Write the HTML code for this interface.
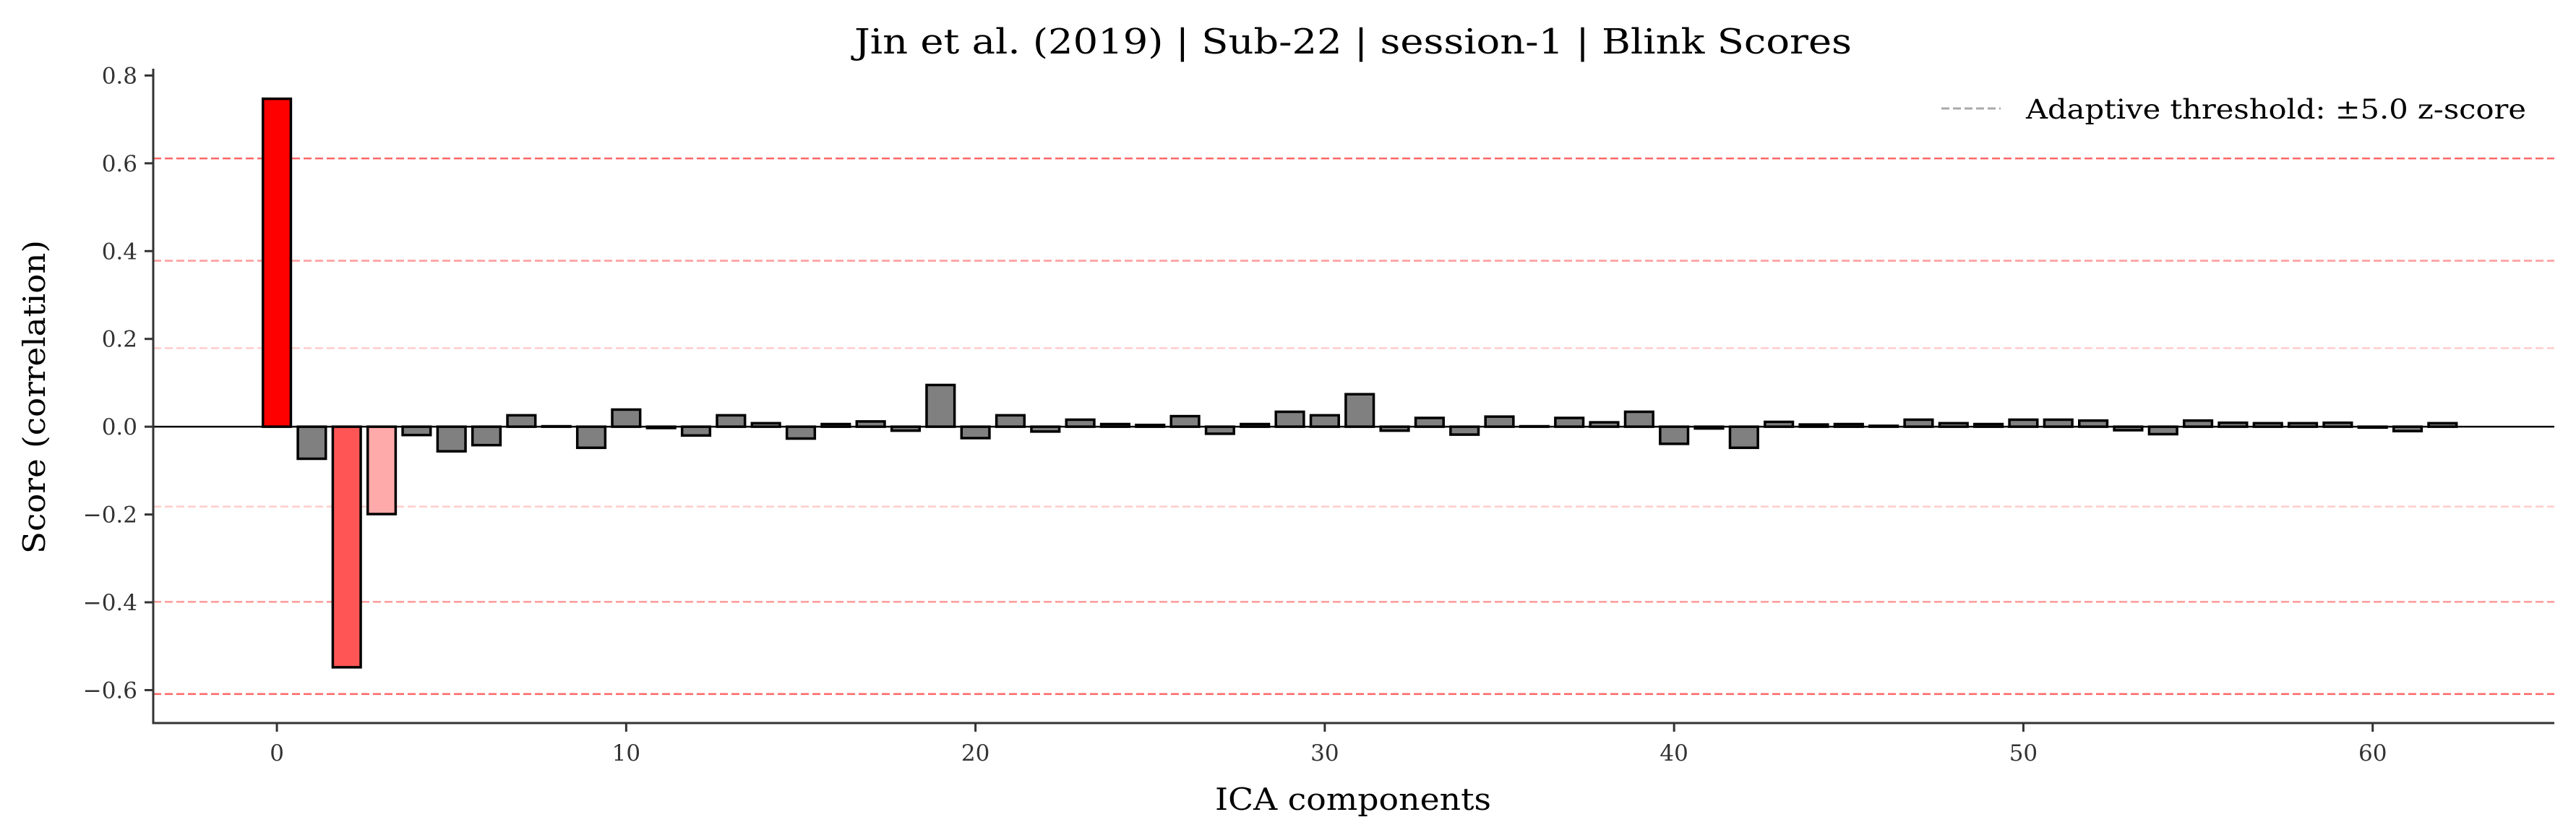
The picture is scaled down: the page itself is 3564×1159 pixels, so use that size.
<!DOCTYPE html>
<html><head><meta charset="utf-8"><style>
html,body{margin:0;padding:0;background:#fff;}
svg{display:block;font-family:"DejaVu Serif","Liberation Serif",serif;}
</style></head><body>
<svg id="chart" width="3564" height="1159" viewBox="0 0 3564 1159" xmlns="http://www.w3.org/2000/svg">
<text x="1872" y="74" font-size="48" text-anchor="middle" fill="#000" textLength="1380" lengthAdjust="spacingAndGlyphs">Jin et al. (2019) | Sub-22 | session-1 | Blink Scores</text>
<g id="grid"></g><g id="bars"></g><g id="axes"></g>
<text transform="translate(62,549) rotate(-90)" font-size="42" text-anchor="middle" fill="#000" textLength="434" lengthAdjust="spacingAndGlyphs">Score (correlation)</text>
<text x="1872" y="1120" font-size="42" text-anchor="middle" fill="#000" textLength="382" lengthAdjust="spacingAndGlyphs">ICA components</text>
<g>
<line x1="2686" y1="150" x2="2768" y2="150" stroke="#aaaaaa" stroke-width="3" stroke-dasharray="11,5"/>
<text x="2803" y="164" font-size="37" fill="#000" textLength="692" lengthAdjust="spacingAndGlyphs">Adaptive threshold: ±5.0 z-score</text>
</g>
</svg>
<script>
const scores=[0.747,-0.073,-0.548,-0.199,-0.019,-0.056,-0.042,0.026,0.001,-0.048,0.039,-0.003,-0.020,0.026,0.008,-0.027,0.006,0.012,-0.009,0.095,-0.026,0.026,-0.011,0.016,0.006,0.004,0.024,-0.016,0.006,0.034,0.026,0.074,-0.009,0.020,-0.018,0.023,0.001,0.020,0.010,0.034,-0.039,-0.004,-0.048,0.011,0.005,0.006,0.002,0.016,0.008,0.006,0.016,0.016,0.014,-0.008,-0.017,0.014,0.009,0.008,0.008,0.009,-0.002,-0.010,0.008];
const barColors={0:"#ff0000",2:"#ff5555",3:"#ffaaaa"};
const thresholds=[0.611,0.378,0.179,-0.182,-0.399,-0.609];
const thresholdColors=["#ff6666","#ff9999","#ffcccc","#ffcccc","#ff9999","#ff6666"];
const yTicks=[0.8,0.6,0.4,0.2,0.0,-0.2,-0.4,-0.6];
const xTicks=[0,10,20,30,40,50,60];
const X0=212,X1=3534,Y0=95,Y1=1000;
const xmin=-3.54,xmax=65.2,ymin=-0.675,ymax=0.8155;
const sx=v=>X0+(v-xmin)/(xmax-xmin)*(X1-X0);
const sy=v=>Y1-(v-ymin)/(ymax-ymin)*(Y1-Y0);
const NS="http://www.w3.org/2000/svg";
function mk(tag,attrs,parent){const e=document.createElementNS(NS,tag);for(const k in attrs)e.setAttribute(k,attrs[k]);parent.appendChild(e);return e;}
const grid=document.getElementById('grid'),bars=document.getElementById('bars'),axes=document.getElementById('axes');
thresholds.forEach((t,i)=>{
  const l=mk('line',{x1:X0,x2:X1,y1:sy(t),y2:sy(t),stroke:thresholdColors[i],'stroke-width':2.5,'stroke-dasharray':'11,5'},grid);
  
  
});
const bw=0.8;
scores.forEach((v,i)=>{
  const y=Math.min(sy(v),sy(0)),h=Math.abs(sy(v)-sy(0));
  const r=mk('rect',{x:sx(i-bw/2),y:y,width:sx(bw)-sx(0),height:h,fill:barColors[i]||"#808080",stroke:"#000",'stroke-width':3.5},bars);
  
  
});
const zl=mk('line',{x1:X0,x2:X1,y1:sy(0),y2:sy(0),stroke:"#000",'stroke-width':2.5},axes);


const ys=mk('line',{x1:X0,x2:X0,y1:Y0,y2:Y1,stroke:"#333",'stroke-width':3},axes);


const xs=mk('line',{x1:X0-1.5,x2:X1,y1:Y1,y2:Y1,stroke:"#333",'stroke-width':3},axes);


yTicks.forEach(t=>{
  mk('line',{x1:X0-12,x2:X0,y1:sy(t),y2:sy(t),stroke:"#333",'stroke-width':3},axes);
  const tx=mk('text',{x:X0-22,y:sy(t)+11,'font-size':31,'text-anchor':'end',fill:'#333'},axes);
  tx.textContent=(t<0?'\u2212':'')+Math.abs(t).toFixed(1);
  
  
});
xTicks.forEach(t=>{
  mk('line',{x1:sx(t),x2:sx(t),y1:Y1,y2:Y1+12,stroke:"#333",'stroke-width':3},axes);
  const tx=mk('text',{x:sx(t),y:Y1+52,'font-size':31,'text-anchor':'middle',fill:'#333'},axes);
  tx.textContent=t;
  
  
});
</script>
</body></html>
